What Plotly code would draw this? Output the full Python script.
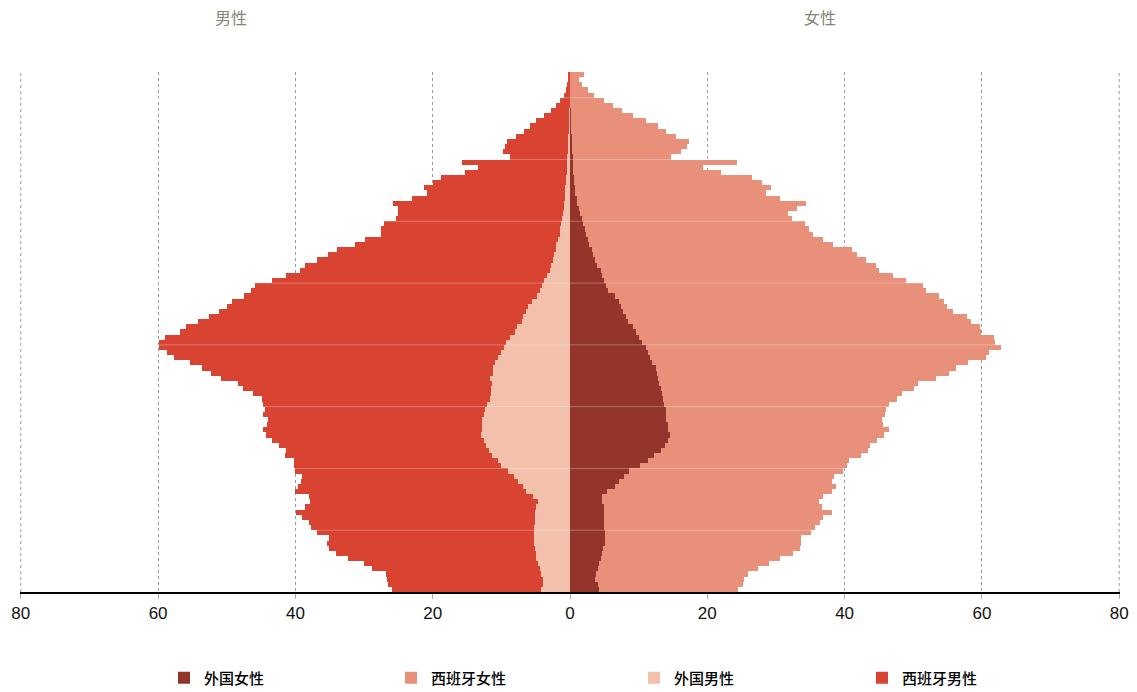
import plotly.graph_objects as go

ages = list(range(0, 101))

# Foreign men (values shown on the left)
foreign_male = [4.26, 3.93, 3.99, 4.2, 4.42, 4.69, 4.9, 5.02, 5.12, 5.18,
                5.23, 5.23, 5.18, 5.12, 5.07, 5.07, 4.96, 4.69, 5.44, 6.41,
                6.84, 7.55, 8.13, 9.1, 10.02, 10.5, 11.42, 11.8, 12.23, 12.6,
                12.93, 12.87, 12.82, 12.77, 12.6, 12.45, 12.1, 11.69, 11.58, 11.53,
                11.42, 11.69, 11.26, 11.2, 10.88, 10.45, 10.07, 9.64, 9.27, 8.72,
                7.97, 7.7, 7.06, 6.84, 6.41, 6.09, 5.55, 4.74, 4.36, 4.04,
                3.72, 3.39, 2.96, 2.75, 2.53, 2.26, 2.1, 1.99, 1.8, 1.5,
                1.4, 1.28, 1.12, 1.0, 0.92, 0.85, 0.78, 0.72, 0.66, 0.6,
                0.55, 0.5, 0.46, 0.42, 0.38, 0.34, 0.3, 0.26, 0.22, 0.19,
                0.16, 0.13, 0.11, 0.09, 0.07, 0.06, 0.05, 0.04, 0.03, 0.02, 0.02]

# Spanish men
spanish_male = [21.64, 22.63, 22.68, 22.58, 24.46, 25.37, 27.37, 29.08, 29.95, 30.27,
                29.95, 31.67, 32.48, 32.97, 33.93, 34.85, 33.67, 33.18, 32.54, 33.67,
                32.81, 31.62, 30.93, 30.98, 30.22, 29.69, 30.17, 29.57, 30.11, 30.82,
                31.3, 31.9, 31.3, 31.24, 32.17, 31.95, 32.67, 33.19, 34.59, 36.15,
                36.96, 39.21, 41.0, 42.46, 44.5, 47.19, 48.7, 50.26, 50.63, 50.32,
                48.86, 48.22, 47.14, 45.68, 44.77, 43.91, 43.74, 42.72, 42.14, 41.81,
                39.64, 37.98, 36.31, 35.82, 34.32, 32.97, 31.9, 29.31, 28.0, 26.08,
                26.1, 25.87, 24.18, 24.0, 24.08, 24.95, 22.28, 20.18, 20.54, 19.3,
                18.2, 14.85, 12.94, 15.38, 8.4, 9.41, 9.24, 8.95, 7.65, 6.49,
                5.66, 4.77, 3.61, 2.66, 2.03, 1.39, 0.86, 0.6, 0.45, 0.3, 0.2]

# Foreign women
foreign_female = [4.2, 4.04, 3.67, 3.83, 4.04, 4.25, 4.47, 4.63, 4.79, 5.05,
                  5.05, 5.05, 4.94, 4.94, 4.94, 4.89, 4.89, 4.73, 4.68, 5.43,
                  6.61, 7.2, 7.89, 8.64, 10.14, 11.31, 12.17, 13.24, 13.83, 14.21,
                  14.58, 14.31, 14.31, 13.94, 14.05, 14.05, 13.67, 13.61, 13.45, 13.19,
                  12.92, 12.82, 12.71, 12.49, 11.96, 11.64, 11.32, 11.05, 10.52, 9.98,
                  9.55, 9.18, 8.48, 8.1, 7.79, 7.47, 7.2, 6.5, 5.59, 5.27,
                  5.0, 4.73, 4.47, 3.98, 3.66, 3.39, 3.18, 2.75, 2.59, 2.33,
                  2.15, 1.93, 1.72, 1.45, 1.25, 1.08, 0.95, 0.8, 0.7, 0.62,
                  0.54, 0.5, 0.46, 0.42, 0.38, 0.35, 0.3, 0.26, 0.22, 0.18,
                  0.15, 0.13, 0.11, 0.09, 0.07, 0.06, 0.05, 0.04, 0.03, 0.02, 0.02]

# Spanish women
spanish_female = [20.25, 21.11, 21.64, 22.07, 23.41, 24.7, 26.18, 27.79, 28.65, 28.6,
                  28.55, 30.05, 30.8, 31.55, 31.98, 33.21, 31.76, 31.49, 32.18, 32.75,
                  32.11, 30.98, 30.51, 31.2, 30.24, 29.39, 30.29, 30.18, 29.92, 30.44,
                  31.09, 32.21, 31.25, 31.51, 31.89, 32.05, 32.8, 33.99, 34.96, 36.98,
                  37.84, 40.56, 42.49, 43.73, 46.08, 49.01, 49.65, 51.8, 51.42, 51.85,
                  50.36, 50.57, 49.93, 49.72, 47.95, 47.41, 47.25, 47.2, 46.24, 46.18,
                  43.88, 42.28, 40.56, 40.57, 39.39, 38.43, 37.94, 35.59, 34.31, 33.02,
                  32.72, 32.29, 30.63, 30.36, 31.84, 33.25, 29.68, 27.8, 28.6, 27.34,
                  25.96, 21.46, 18.94, 23.9, 14.31, 15.89, 16.75, 17.05, 15.17, 13.76,
                  12.61, 10.92, 9.01, 7.53, 6.15, 4.83, 3.51, 2.55, 1.76, 1.29, 1.98]

tick_values = [-80, -60, -40, -20, 0, 20, 40, 60, 80]
tick_labels = ["80", "60", "40", "20", "0", "20", "40", "60", "80"]

series_names = ["外国女性", "西班牙女性", "外国男性", "西班牙男性"]
colors = ["#93352B", "#E8907A", "#F2C0AB", "#D94332"]

W, H = 1137, 692
ML, MR, MT, MB = 20, 17, 72, 100
PW = W - ML - MR
PH = H - MT - MB


def paper_x(px):
    return (px - ML) / PW


fig = go.Figure()
data_sets = [foreign_female, spanish_female,
             [-v for v in foreign_male], [-v for v in spanish_male]]
legend_ids = ["legend", "legend2", "legend3", "legend4"]
for name, vals, col, lg in zip(series_names, data_sets, colors, legend_ids):
    fig.add_trace(go.Bar(
        y=ages, x=vals, orientation="h", name=name,
        marker=dict(color=col, line=dict(width=0)),
        legend=lg, hoverinfo="skip",
    ))

# x where each legend text should begin
legend_text_x = [203, 430, 673, 901]
legend_layouts = {}
for lg, tx in zip(legend_ids, legend_text_x):
    legend_layouts[lg] = dict(
        x=paper_x(tx - 39), xanchor="left",
        y=-86 / PH, yanchor="middle",
        orientation="h", bgcolor="rgba(0,0,0,0)",
        font=dict(family="Noto Sans CJK SC", size=15, color="#000000", weight=500),
        itemclick=False, itemdoubleclick=False,
    )

shapes = []
for a in range(12, 100, 12):
    shapes.append(dict(type="line", xref="paper", x0=0, x1=1, yref="y",
                       y0=a - 0.5, y1=a - 0.5, layer="above",
                       line=dict(color="rgba(255,255,255,0.28)", width=1)))
# dotted grid lines at the two outer ticks (plotly drops grid at the range edges)
for xv in (tick_values[0], tick_values[-1]):
    shapes.append(dict(type="line", xref="x", x0=xv, x1=xv, yref="paper",
                       y0=0, y1=1, layer="below",
                       line=dict(color="#9a9a9a", width=1, dash="dot")))

title_font = dict(family="Noto Sans CJK SC", size=16, color="#85857b")
annotations = [
    dict(text="男性", xref="paper", yref="paper", x=paper_x(231), y=1,
         yshift=55, xanchor="center", yanchor="middle", showarrow=False,
         font=title_font),
    dict(text="女性", xref="paper", yref="paper", x=paper_x(820), y=1,
         yshift=55, xanchor="center", yanchor="middle", showarrow=False,
         font=title_font),
]

fig.update_layout(
    width=W, height=H,
    margin=dict(l=ML, r=MR, t=MT, b=MB, pad=0, autoexpand=False),
    paper_bgcolor="white", plot_bgcolor="white",
    barmode="relative", bargap=0,
    showlegend=True,
    shapes=shapes, annotations=annotations,
    xaxis=dict(range=[-80.12, 80.12], tickvals=tick_values, ticktext=tick_labels,
               showgrid=True, gridcolor="#9a9a9a", griddash="dot", gridwidth=1,
               zeroline=False, showline=True, linecolor="#000000", linewidth=1.5,
               ticks="outside", ticklen=5, tickcolor="#aaaaaa",
               tickfont=dict(family="Liberation Sans, Arial", size=17, color="#111111"),
               automargin=False, fixedrange=True),
    yaxis=dict(range=[-0.5, 100.5], showgrid=False, zeroline=False,
               showticklabels=False, showline=False, fixedrange=True,
               automargin=False),
    **legend_layouts,
)

# remove the default 8px page margin so the figure fills the window exactly
fig.write_html("out.html",
               config={"displayModeBar": False},
               post_script="document.body.style.margin='0';document.body.style.overflow='hidden';")
